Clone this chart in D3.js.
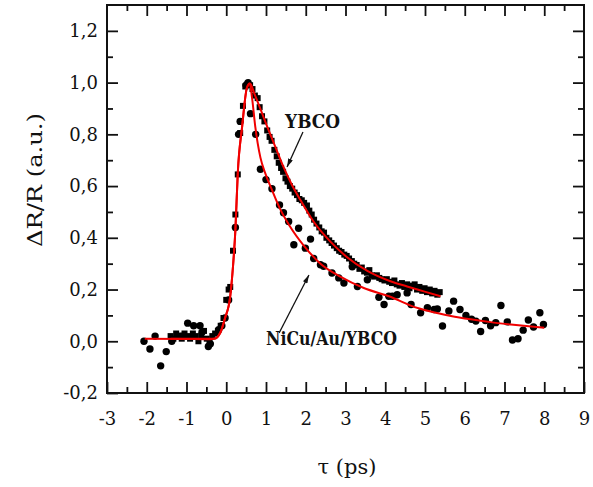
<!DOCTYPE html>
<html>
<head>
<meta charset="utf-8">
<script src="https://cdn.jsdelivr.net/npm/d3@7"></script>
<style>
body { margin: 0; background: #fff; }
</style>
</head>
<body>
<div id="chart"></div>
<script>
// tick values
var xTicks = [-3, -2, -1, 0, 1, 2, 3, 4, 5, 6, 7, 8, 9];
var xMinor = [-2.5, -1.5, -0.5, 0.5, 1.5, 2.5, 3.5, 4.5, 5.5, 6.5, 7.5, 8.5];
var yTicks = [-0.2, 0, 0.2, 0.4, 0.6, 0.8, 1.0, 1.2];
var yMinor = [-0.1, 0.1, 0.3, 0.5, 0.7, 0.9, 1.1];

// YBCO data (squares), [tau ps, dR/R]
var ybco = [
  [-1.40,0.02],[-1.33,0.01],[-1.26,0.03],[-1.19,0.02],[-1.12,0.01],[-1.05,0.03],[-0.98,0.02],
  [-0.91,0.01],[-0.84,0.03],[-0.77,0.02],[-0.70,0.00],[-0.63,0.02],[-0.56,0.04],[-0.49,0.01],
  [-0.42,0.00],[-0.35,0.02],[-0.28,0.03],[-0.21,0.04],[-0.14,0.06],[-0.07,0.09],[0.00,0.16],
  [0.06,0.20],[0.10,0.21],[0.17,0.35],[0.23,0.49],[0.29,0.645],[0.35,0.805],[0.42,0.91],
  [0.48,0.985],[0.54,0.995],[0.60,0.99],[0.66,0.975],[0.72,0.95],[0.79,0.94],[0.84,0.905],
  [0.90,0.87],[0.96,0.85],[1.03,0.815],[1.09,0.79],[1.14,0.775],[1.21,0.74],[1.27,0.715],
  [1.32,0.69],[1.38,0.67],[1.43,0.655],[1.49,0.63],[1.54,0.617],[1.60,0.60],[1.66,0.59],
  [1.72,0.575],[1.78,0.565],[1.84,0.55],[1.90,0.545],[1.96,0.535],[2.03,0.525],[2.09,0.505],
  [2.15,0.49],[2.21,0.47],[2.27,0.455],[2.34,0.44],[2.40,0.425],[2.46,0.42],[2.52,0.40],
  [2.59,0.39],[2.65,0.38],[2.71,0.37],[2.78,0.36],[2.84,0.35],[2.90,0.345],[2.97,0.335],
  [3.03,0.33],[3.09,0.32],[3.16,0.31],[3.22,0.30],[3.28,0.295],[3.35,0.28],[3.41,0.285],
  [3.47,0.27],[3.54,0.265],[3.60,0.275],[3.66,0.255],[3.72,0.25],[3.79,0.255],[3.85,0.245],
  [3.91,0.24],[3.98,0.235],[4.04,0.24],[4.10,0.23],[4.17,0.225],[4.23,0.235],[4.29,0.22],
  [4.36,0.215],[4.42,0.225],[4.48,0.21],[4.55,0.22],[4.61,0.205],[4.67,0.215],[4.74,0.22],
  [4.80,0.20],[4.86,0.21],[4.93,0.195],[4.99,0.205],[5.05,0.19],[5.12,0.20],[5.18,0.185],
  [5.24,0.195],[5.31,0.18],[5.37,0.19]
];

// NiCu/Au/YBCO data (circles)
var nicu = [
  [-2.07,0.00],[-1.92,-0.03],[-1.79,0.02],[-1.65,-0.095],[-1.51,-0.04],[-1.37,0.00],[-1.16,0.02],
  [-1.10,0.02],[-0.97,0.07],[-0.82,0.06],[-0.66,0.06],[-0.61,0.035],[-0.45,-0.02],[-0.40,-0.01],
  [-0.19,0.045],[-0.11,0.06],[-0.03,0.09],[0.06,0.16],[0.23,0.44],[0.31,0.80],[0.35,0.85],
  [0.50,0.99],[0.55,1.00],[0.61,0.88],[0.74,0.80],[0.86,0.665],[1.00,0.625],[1.15,0.59],
  [1.34,0.527],[1.44,0.497],[1.57,0.463],[1.70,0.373],[1.82,0.437],[1.99,0.36],[2.12,0.395],
  [2.20,0.32],[2.37,0.296],[2.45,0.29],[2.66,0.264],[2.83,0.245],[2.96,0.225],[3.17,0.288],
  [3.30,0.212],[3.55,0.238],[3.84,0.17],[3.97,0.142],[4.09,0.174],[4.18,0.174],[4.30,0.18],
  [4.55,0.187],[4.65,0.142],[4.89,0.11],[5.06,0.13],[5.23,0.123],[5.31,0.125],[5.44,0.059],
  [5.60,0.117],[5.72,0.155],[5.88,0.123],[6.03,0.10],[6.17,0.085],[6.28,0.078],[6.40,0.038],
  [6.52,0.08],[6.65,0.06],[6.78,0.072],[6.91,0.138],[7.07,0.075],[7.20,0.005],[7.34,0.01],
  [7.47,0.043],[7.60,0.082],[7.73,0.055],[7.89,0.11],[7.98,0.065]
];

// fitted curves
var ybcoFit = [
  [-1.4,0.01],[-0.3,0.01],[-0.15,0.033],[-0.03,0.09],[0.1,0.174],[0.17,0.29],[0.23,0.43],
  [0.29,0.65],[0.4,0.83],[0.52,0.98],[0.6,0.997],[0.7,0.96],[0.81,0.918],[1.03,0.83],
  [1.24,0.75],[1.44,0.674],[1.65,0.605],[1.87,0.545],[2.2,0.462],[2.62,0.385],[3.04,0.325],
  [3.55,0.272],[4.13,0.232],[4.55,0.212],[4.97,0.193],[5.39,0.174]
];
var nicuFit = [
  [-2.05,0.01],[-1.0,0.009],[-0.5,0.008],[-0.3,0.01],[-0.15,0.033],[-0.03,0.09],[0.1,0.174],
  [0.17,0.29],[0.23,0.43],[0.29,0.65],[0.4,0.83],[0.52,0.98],[0.59,0.997],[0.65,0.94],
  [0.73,0.83],[0.86,0.71],[0.98,0.65],[1.15,0.585],[1.36,0.51],[1.6,0.445],[1.95,0.37],
  [2.37,0.30],[2.87,0.25],[3.46,0.206],[4.13,0.172],[4.64,0.138],[5.14,0.115],[5.65,0.098],
  [6.15,0.085],[6.65,0.074],[7.16,0.065],[8.0,0.052]
];

// labels: [text, x, y, width] in data units, arrows [x1,y1,x2,y2]
var notes = [["YBCO", 1.48, 0.824, 55], ["NiCu/Au/YBCO", 1.0, -0.014, 131]];
var arrows = [[1.93, 0.809, 1.53, 0.674], [1.33, 0.032, 2.08, 0.256]];

var w = 593, h = 487;
var m = {l: 107, r: 584, t: 5, b: 393};
var serif = "DejaVu Serif";

var svg = d3.select("#chart").append("svg")
  .attr("width", w)
  .attr("height", h)
  .style("font-family", serif);

var x = d3.scaleLinear().domain([-3, 9]).range([m.l, m.r]);
var y = d3.scaleLinear().domain([-0.2, 1.3]).range([m.b, m.t]);

var fmtY = function(d) { return d3.format(".1f")(d).replace(".", ",").replace("\u2212", "-"); };

function styleAxis(g) {
  g.attr("font-family", null).attr("font-size", null);
  g.select(".domain").remove();
  g.selectAll("line").attr("stroke", "#111").attr("stroke-width", 1.8);
  g.selectAll("text").attr("fill", "#111").style("font-family", serif).style("font-size", "18px");
}

// major ticks (inward) and labels
svg.append("g").attr("transform", "translate(0," + m.b + ")")
  .call(d3.axisBottom(x).tickValues(xTicks).tickSize(-11).tickPadding(19).tickFormat(function(d){ return String(d); }))
  .call(styleAxis);
svg.append("g").attr("transform", "translate(" + m.l + ",0)")
  .call(d3.axisLeft(y).tickValues(yTicks).tickSize(-11).tickPadding(9).tickFormat(fmtY))
  .call(styleAxis);
svg.append("g").attr("transform", "translate(0," + m.t + ")")
  .call(d3.axisTop(x).tickValues(xTicks.slice(1, -1)).tickSize(-11).tickFormat(""))
  .call(styleAxis);
svg.append("g").attr("transform", "translate(" + m.r + ",0)")
  .call(d3.axisRight(y).tickValues(yTicks.slice(1)).tickSize(-11).tickFormat(""))
  .call(styleAxis);

// minor ticks
svg.append("g").attr("transform", "translate(0," + m.b + ")")
  .call(d3.axisBottom(x).tickValues(xMinor).tickSize(-6).tickFormat("")).call(styleAxis);
svg.append("g").attr("transform", "translate(0," + m.t + ")")
  .call(d3.axisTop(x).tickValues(xMinor).tickSize(-6).tickFormat("")).call(styleAxis);
svg.append("g").attr("transform", "translate(" + m.l + ",0)")
  .call(d3.axisLeft(y).tickValues(yMinor).tickSize(-6).tickFormat("")).call(styleAxis);
svg.append("g").attr("transform", "translate(" + m.r + ",0)")
  .call(d3.axisRight(y).tickValues(yMinor).tickSize(-6).tickFormat("")).call(styleAxis);

// frame
svg.append("rect")
  .attr("x", m.l).attr("y", m.t)
  .attr("width", m.r - m.l).attr("height", m.b - m.t)
  .attr("fill", "none").attr("stroke", "#111").attr("stroke-width", 2);

// data points
svg.append("g").selectAll("rect")
  .data(ybco).enter().append("rect")
  .attr("x", function(d){ return x(d[0]) - 3; })
  .attr("y", function(d){ return y(d[1]) - 3; })
  .attr("width", 6).attr("height", 6)
  .attr("fill", "#000");

svg.append("g").selectAll("circle")
  .data(nicu).enter().append("circle")
  .attr("cx", function(d){ return x(d[0]); })
  .attr("cy", function(d){ return y(d[1]); })
  .attr("r", 3.7)
  .attr("fill", "#000");

// fits
var line = d3.line()
  .x(function(d){ return x(d[0]); })
  .y(function(d){ return y(d[1]); })
  .curve(d3.curveMonotoneX);

[ybcoFit, nicuFit].forEach(function(f) {
  svg.append("path").datum(f)
    .attr("d", line)
    .attr("fill", "none")
    .attr("stroke", "#f00000")
    .attr("stroke-width", 2);
});

// annotations
svg.append("defs").append("marker")
  .attr("id", "arr")
  .attr("viewBox", "0 0 10 6")
  .attr("refX", 10).attr("refY", 3)
  .attr("markerWidth", 9).attr("markerHeight", 5)
  .attr("markerUnits", "userSpaceOnUse")
  .attr("orient", "auto")
  .append("path").attr("d", "M0,0L10,3L0,6Z").attr("fill", "#111");

svg.selectAll(".arrow")
  .data(arrows).enter().append("line")
  .attr("class", "arrow")
  .attr("x1", function(d){ return x(d[0]); })
  .attr("y1", function(d){ return y(d[1]); })
  .attr("x2", function(d){ return x(d[2]); })
  .attr("y2", function(d){ return y(d[3]); })
  .attr("stroke", "#111").attr("stroke-width", 1.3)
  .attr("marker-end", "url(#arr)");

svg.selectAll(".note")
  .data(notes).enter().append("text")
  .attr("class", "note")
  .attr("x", function(d){ return x(d[1]); })
  .attr("y", function(d){ return y(d[2]); })
  .attr("textLength", function(d){ return d[3]; })
  .attr("lengthAdjust", "spacingAndGlyphs")
  .style("font-size", "18px")
  .style("font-weight", "bold")
  .attr("fill", "#111")
  .text(function(d){ return d[0]; });

// axis titles
svg.append("text")
  .attr("transform", "translate(35,180) rotate(-90)")
  .attr("text-anchor", "middle")
  .attr("dominant-baseline", "central")
  .attr("textLength", 134)
  .attr("lengthAdjust", "spacingAndGlyphs")
  .style("font-size", "21px")
  .attr("fill", "#111")
  .text("\u0394R/R (a.u.)");

svg.append("text")
  .attr("x", 347).attr("y", 474)
  .attr("text-anchor", "middle")
  .style("font-size", "21px")
  .attr("fill", "#111")
  .text("\u03c4 (ps)");
</script>
</body>
</html>
